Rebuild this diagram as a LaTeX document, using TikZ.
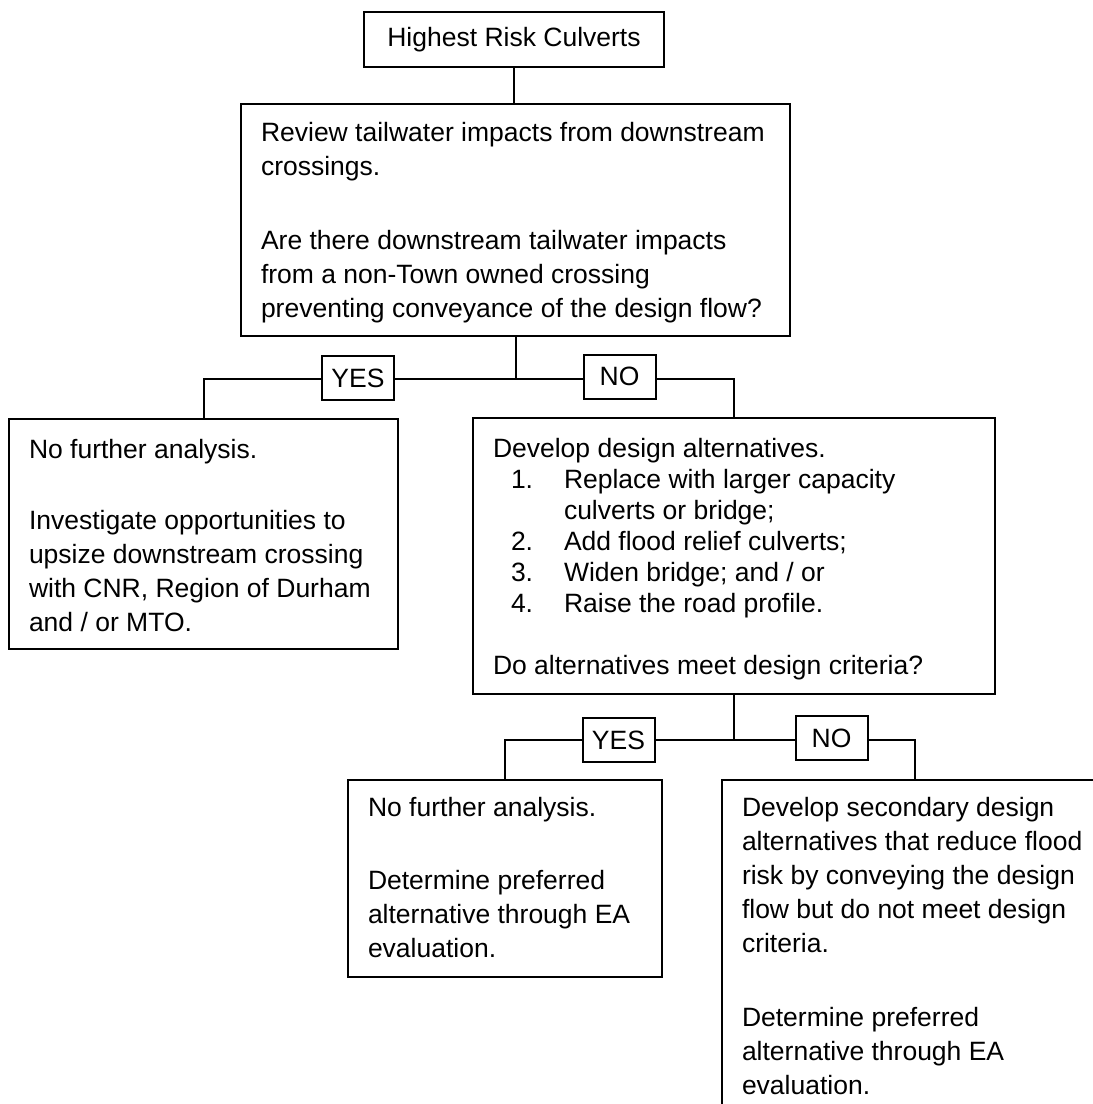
\documentclass[tikz,border=0pt]{standalone}
\usepackage{fontspec}
\setmainfont{Liberation Sans}
\usetikzlibrary{positioning}
\setlength{\parindent}{0pt}
% numbered lines inside the alternatives box
\newcommand{\altnum}[2]{\hspace*{9pt}\makebox[26.5pt][l]{#1}#2}
\newcommand{\altcont}[1]{\hspace*{35.5pt}#1}

\begin{document}
\begin{tikzpicture}[
  x=0.5pt, y=-0.5pt,
  font=\fontsize{13.25pt}{17pt}\selectfont,
  link/.style={line width=1pt},
  box/.style={draw, line width=1pt, anchor=north west, align=flush left,
              inner xsep=10pt, inner ysep=0pt},
  answer/.style={draw, line width=1pt, minimum width=36pt,
                 minimum height=22pt, inner sep=0pt},
]
\useasboundingbox (0,0) rectangle (1093,1104);
\clip (0,0) rectangle (1093,1104);
% start and first question
\node[draw, line width=1pt, minimum width=150pt, minimum height=27.5pt]
  (top) at (514,39.5) {Highest Risk Culverts};
\node[box, text width=254.5pt] (main) at (240,103)
  {\rule{0pt}{18.5pt}Review tailwater impacts from downstream\\
   crossings.\\[20pt]
   Are there downstream tailwater impacts\\
   from a non-Town owned crossing\\
   preventing conveyance of the design flow?\rule[-9.5pt]{0pt}{9.5pt}};
% first split
\coordinate[below=21pt of main.south] (fork1);
\node[answer] (yes1) at (358,378) {YES};
\node[answer] (no1) at (619.5,376.5) {NO};
\node[box, text width=174.5pt] (left) at (8,418)
  {\rule{0pt}{19.5pt}No further analysis.\\[18.5pt]
   Investigate opportunities to\\
   upsize downstream crossing\\
   with CNR, Region of Durham\\
   and / or MTO.\rule[-9pt]{0pt}{9pt}};
\node[box, text width=241pt, font=\fontsize{13.25pt}{15.5pt}\selectfont]
  (right) at (472,417)
  {\rule{0pt}{19.5pt}Develop design alternatives.\\
   \altnum{1.}{Replace with larger capacity}\\
   \altcont{culverts or bridge;}\\
   \altnum{2.}{Add flood relief culverts;}\\
   \altnum{3.}{Widen bridge; and / or}\\
   \altnum{4.}{Raise the road profile.}\\[15.5pt]
   Do alternatives meet design criteria?\rule[-10pt]{0pt}{10pt}};
% second split
\coordinate[below=22.5pt of right.south] (fork2);
\node[answer] (yes2) at (618.5,740) {YES};
\node[answer] (no2) at (831.5,738) {NO};
\node[box, text width=137pt] (bl) at (347,779)
  {\rule{0pt}{18pt}No further analysis.\\[19.5pt]
   Determine preferred\\
   alternative through EA\\
   evaluation.\rule[-10pt]{0pt}{10pt}};
\node[box, text width=173pt] (br) at (721,779)
  {\rule{0pt}{18pt}Develop secondary design\\
   alternatives that reduce flood\\
   risk by conveying the design\\
   flow but do not meet design\\
   criteria.\\[20pt]
   Determine preferred\\
   alternative through EA\\
   evaluation.\rule[-10pt]{0pt}{10pt}};
% connectors
\draw[link] (top.south) -- (top.south |- main.north);
\draw[link] (main.south) -- (fork1);
\draw[link] (yes1.east |- fork1) -- (no1.west |- fork1);
\draw[link] (yes1.west |- fork1) -| (left.north);
\draw[link] (no1.east |- fork1) -| (right.north);
\draw[link] (right.south) -- (fork2);
\draw[link] (yes2.east |- fork2) -- (no2.west |- fork2);
\draw[link] (yes2.west |- fork2) -| (bl.north);
\draw[link] (no2.east |- fork2) -| (br.north);
\end{tikzpicture}
\end{document}
